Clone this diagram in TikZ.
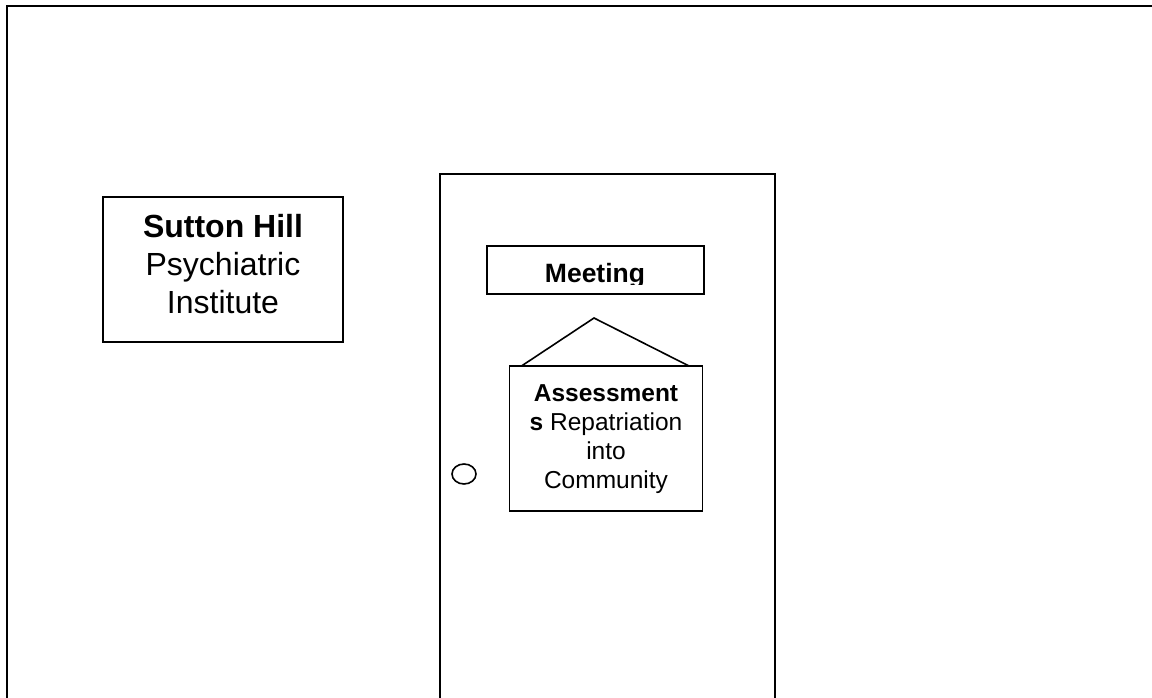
\documentclass[tikz,border=0pt]{standalone}
\usepackage{fontspec}
\usetikzlibrary{shapes.geometric}
\setmainfont{Liberation Sans}
\begin{document}
\begin{tikzpicture}[x=1pt,y=-1pt,
  frame/.style={line width=2.4pt},
  doorline/.style={line width=2pt},
  boxline/.style={draw,line width=1.6pt,inner sep=0pt,rectangle},
  txt/.style={align=center,inner sep=0pt}]
\useasboundingbox (0,0) rectangle (1152,698);
\fill[white] (0,0) rectangle (1152,698);
% outer frame (top and left)
\coordinate (ftl) at (7,6);
\coordinate (fbl) at (7,698);
\coordinate (ftr) at (1152,6);
\draw[frame] (fbl) -- (ftl) -- (ftr);
% door
\coordinate (dbl) at (440,698);
\coordinate (dtl) at (440,174);
\coordinate (dtr) at (775,174);
\coordinate (dbr) at (775,698);
\draw[doorline] (dbl) -- (dtl) -- (dtr) -- (dbr);
\coordinate (hl) at (727,174);
\coordinate (hr) at (751,174);
\draw[line width=2.8pt] (hl) -- (hr);
% door knob
\node[draw,ellipse,line width=1.6pt,minimum width=24pt,minimum height=20pt,inner sep=0pt] (knob) at (464,474) {};
% Sutton Hill box
\node[boxline,minimum width=240pt,minimum height=145pt] (sutton) at (223,269.5) {};
\node[txt,font=\fontsize{32}{38}\selectfont] (suttontext) at (223,264.5) {\textbf{Sutton Hill}\\Psychiatric\\Institute};
% Meeting box
\node[boxline,minimum width=217pt,minimum height=48pt] (meeting) at (595.5,270) {};
\begin{scope}
\clip (487,246) rectangle (704,284);
\node[inner sep=0pt,anchor=base,font=\fontsize{26.5}{30}\selectfont\bfseries] (meetingtext) at (595,282) {Meeting};
\end{scope}
% Assessments box
\node[boxline,minimum width=193pt,minimum height=145pt] (assess) at (606,438.5) {};
\node[txt,font=\fontsize{24.5}{29}\selectfont] (assesstext) at (606,439) {\textbf{Assessment}\\\textbf{s} Repatriation\\into\\Community};
% roof triangle
\coordinate (apex) at (594,318);
\coordinate (rl) at (521.5,366);
\coordinate (rr) at (689,366);
\draw[line width=1.6pt] (rl) -- (apex) -- (rr);
\end{tikzpicture}
\end{document}
